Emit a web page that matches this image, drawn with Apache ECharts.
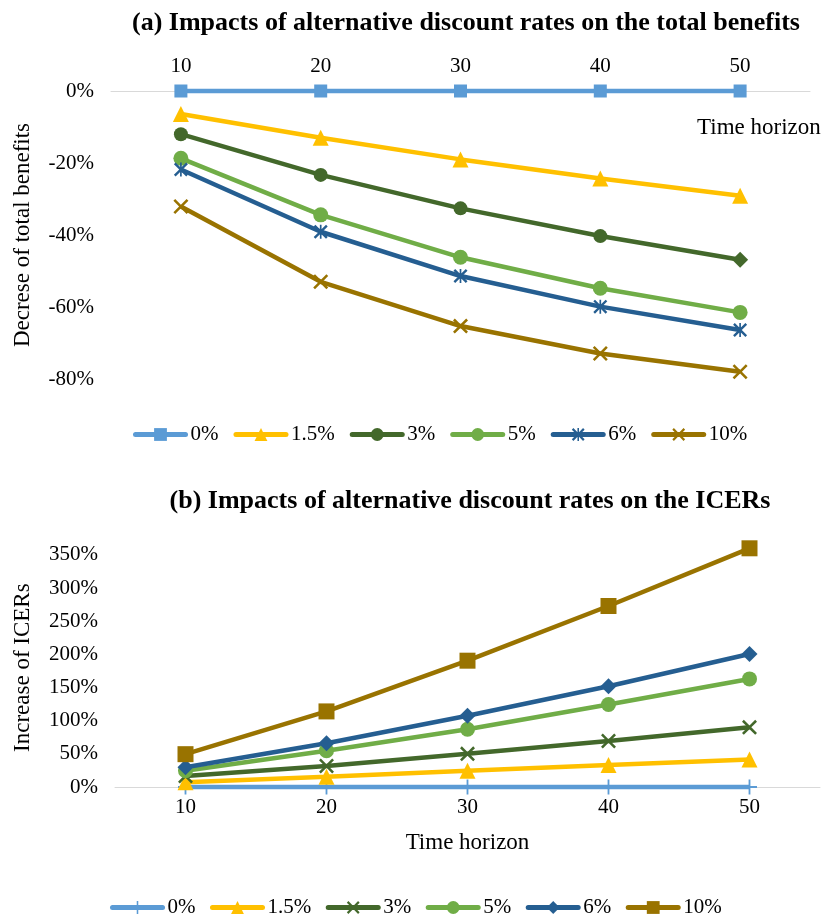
<!DOCTYPE html>
<html>
<head>
<meta charset="utf-8">
<script src="https://cdn.jsdelivr.net/npm/echarts@6/dist/echarts.min.js"></script>
<style>
html,body{margin:0;padding:0;background:#fff;}
#main{width:826px;height:915px;}
</style>
</head>
<body>
<div id="main"></div>
<script>
// ---- data ----
const categories = ['10', '20', '30', '40', '50'];
const rateNames = ['0%', '1.5%', '3%', '5%', '6%', '10%'];

const benefits0  = [0, 0, 0, 0, 0];
const benefits15 = [-0.064, -0.130, -0.190, -0.243, -0.291];
const benefits3  = [-0.120, -0.233, -0.326, -0.403, -0.469];
const benefits5  = [-0.187, -0.344, -0.462, -0.548, -0.615];
const benefits6  = [-0.218, -0.391, -0.514, -0.599, -0.664];
const benefits10 = [-0.321, -0.530, -0.653, -0.729, -0.780];

const icer0  = [0, 0, 0, 0, 0];
const icer15 = [0.070, 0.156, 0.246, 0.330, 0.415];
const icer3  = [0.166, 0.317, 0.500, 0.694, 0.900];
const icer5  = [0.246, 0.548, 0.870, 1.245, 1.630];
const icer6  = [0.297, 0.660, 1.075, 1.520, 2.006];
const icer10 = [0.495, 1.140, 1.905, 2.730, 3.600];

const benefitTicks = [-0.8, -0.6, -0.4, -0.2, 0];
const icerTicks = [0, 0.5, 1, 1.5, 2, 2.5, 3, 3.5];

// ---- styles ----
const FONT = 'Liberation Serif';
const colors = ['#5B9BD5', '#FFC000', '#43682B', '#70AD47', '#255E91', '#997300'];
const X_PATH = 'path://M0,1.2L1.2,0L5,3.8L8.8,0L10,1.2L6.2,5L10,8.8L8.8,10L5,6.2L1.2,10L0,8.8L3.8,5Z';
const STAR_PATH = 'path://M0,1.2L1.2,0L5,3.8L8.8,0L10,1.2L6.2,5L10,8.8L8.8,10L5,6.2L1.2,10L0,8.8L3.8,5Z M4.4,0H5.6V10H4.4Z';
const PLUS_PATH = 'path://M4.4,0H5.6V4.4H10V5.6H5.6V10H4.4V5.6H0V4.4H4.4Z';

const symA = [['rect', 13], ['triangle', 16], ['circle', 14], ['circle', 15], [STAR_PATH, 14], [X_PATH, 15]];
const symB = [[PLUS_PATH, 15], ['triangle', 16], [X_PATH, 15], ['circle', 15], ['diamond', 16], ['rect', 16]];

const benefitSeries = [benefits0, benefits15, benefits3, benefits5, benefits6, benefits10];
const icerSeries = [icer0, icer15, icer3, icer5, icer6, icer10];

function pct(v) {
  const r = Math.round(v * 100);
  return (r === 0 ? 0 : r) + '%';
}

const series = [];
benefitSeries.forEach((arr, i) => {
  series.push({
    name: rateNames[i], type: 'line', xAxisIndex: 0, yAxisIndex: 0,
    data: arr.map((v, j) => (i === 2 && j === arr.length - 1) ? { value: v, symbol: 'diamond', symbolSize: 16 } : v),
    symbol: symA[i][0], symbolSize: symA[i][1], showAllSymbol: true,
    lineStyle: { color: colors[i], width: 4.5 },
    itemStyle: { color: colors[i], borderColor: colors[i], borderWidth: 0 },
    emphasis: { disabled: true }, animation: false, clip: false
  });
});
icerSeries.forEach((arr, i) => {
  series.push({
    name: rateNames[i] + ' ', type: 'line', xAxisIndex: 1, yAxisIndex: 1,
    data: arr,
    symbol: symB[i][0], symbolSize: symB[i][1], showAllSymbol: true,
    lineStyle: { color: colors[i], width: 4.5 },
    itemStyle: { color: colors[i], borderColor: colors[i], borderWidth: 0 },
    emphasis: { disabled: true }, animation: false, clip: false
  });
});

const axisLineStyle = { show: true, lineStyle: { color: '#D9D9D9', width: 1 } };
const labelStyle = { fontFamily: FONT, fontSize: 21, color: '#000' };
const nameStyle = { fontFamily: FONT, fontSize: 23, color: '#000' };
const titleStyle = { fontFamily: FONT, fontWeight: 'bold', fontSize: 26, color: '#000' };

const option = {
  backgroundColor: '#fff',
  animation: false,
  title: [
    { text: '(a) Impacts of alternative discount rates on the total benefits', left: 461, top: 5, textAlign: 'center', textStyle: titleStyle },
    { text: '(b) Impacts of alternative discount rates on the ICERs', left: 465, top: 483, textAlign: 'center', textStyle: titleStyle }
  ],
  legend: [
    { data: rateNames, left: 133, top: 424, padding: 0, itemWidth: 50, itemHeight: 16, itemGap: 15,
      textStyle: labelStyle, lineStyle: { width: 5, cap: 'round' } },
    { data: rateNames.map(n => n + ' '), left: 110, top: 897, padding: 0, itemWidth: 50, itemHeight: 16, itemGap: 14.5,
      textStyle: labelStyle, lineStyle: { width: 5, cap: 'round' },
      formatter: n => n.trim() }
  ],
  grid: [
    { left: 111, width: 699, top: 91, height: 288 },
    { left: 115, width: 705, top: 548.3, height: 238.7 }
  ],
  xAxis: [
    { type: 'category', gridIndex: 0, data: categories, position: 'top', boundaryGap: true,
      axisLine: axisLineStyle, axisTick: { show: false }, splitLine: { show: false },
      axisLabel: Object.assign({ margin: 14 }, labelStyle) },
    { type: 'category', gridIndex: 1, data: categories, position: 'bottom', boundaryGap: true,
      axisLine: axisLineStyle, axisTick: { show: false }, splitLine: { show: false },
      axisLabel: Object.assign({ margin: 10 }, labelStyle),
      name: 'Time horizon', nameLocation: 'middle', nameGap: 44, nameTextStyle: nameStyle }
  ],
  yAxis: [
    { type: 'value', gridIndex: 0, min: benefitTicks[0], max: benefitTicks[benefitTicks.length - 1], interval: 0.2,
      axisLine: { show: false }, axisTick: { show: false }, splitLine: { show: false },
      axisLabel: Object.assign({ margin: 17, formatter: pct }, labelStyle),
      name: 'Decrese of total benefits', nameLocation: 'middle', nameGap: 77, nameRotate: 90, nameTextStyle: nameStyle },
    { type: 'value', gridIndex: 1, min: icerTicks[0], max: 3.6, interval: 0.5,
      axisLine: { show: false }, axisTick: { show: false }, splitLine: { show: false },
      axisLabel: Object.assign({ margin: 17, showMaxLabel: false,
        formatter: v => icerTicks.some(t => Math.abs(t - v) < 1e-9) ? pct(v) : '' }, labelStyle),
      name: 'Increase of ICERs', nameLocation: 'middle', nameGap: 81, nameRotate: 90, nameTextStyle: nameStyle }
  ],
  graphic: [
    { type: 'text', left: 697, top: 116, style: { text: 'Time horizon', font: '23px "Liberation Serif"', fill: '#000' } }
  ],
  series: series
};

const chart = echarts.init(document.getElementById('main'), null, { renderer: 'canvas' });
chart.setOption(option);
</script>
</body>
</html>
